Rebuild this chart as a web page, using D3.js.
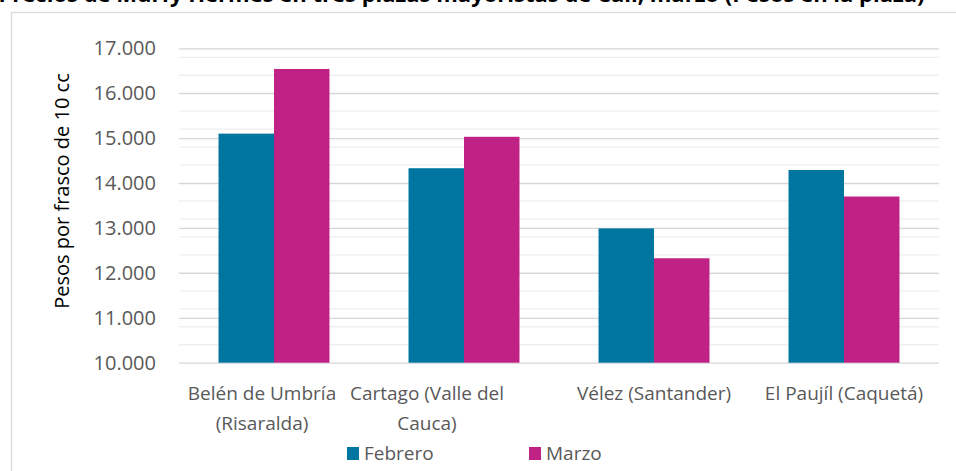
<!DOCTYPE html>
<html>
<head>
<meta charset="utf-8">
<script src="https://cdn.jsdelivr.net/npm/d3@7"></script>
<style>
  body { margin: 0; background: #fff; }
  svg { display: block; font-family: "Open Sans", sans-serif; }
</style>
</head>
<body>
<div id="chart"></div>
<script>
// data
var categories = ["Belén de Umbría (Risaralda)", "Cartago (Valle del Cauca)", "Vélez (Santander)", "El Paujíl (Caquetá)"];
var tickLabels = [["Belén de Umbría", "(Risaralda)"], ["Cartago (Valle del", "Cauca)"], ["Vélez (Santander)"], ["El Paujíl (Caquetá)"]];
var seriesNames = ["Febrero", "Marzo"];
var febrero = [15100, 14330, 12990, 14290];
var marzo = [16540, 15030, 12325, 13700];
var yTicks = [10000, 11000, 12000, 13000, 14000, 15000, 16000, 17000];
var yTitle = "Pesos por frasco de 10 cc";
var title = "Precios de Murfy Hermes en tres plazas mayoristas de Cali, marzo (Pesos en la plaza)";

var width = 956,
  height = 471;
var margin = { left: 179, right: 17, top: 48.3, bottom: 108.3 };
var colors = ["#0075a0", "#c02184"];
// wrapped labels in the original sit a bit left of their group
var labelNudge = [-12, -37, 0, 0];

var svg = d3.select("#chart")
  .append("svg")
  .attr("width", width)
  .attr("height", height);

//outer chart frame, runs off the page on the right and bottom
svg.append("rect")
  .attr("x", 11.5)
  .attr("y", 12.5)
  .attr("width", width + 20)
  .attr("height", height + 20)
  .attr("fill", "none")
  .attr("stroke", "#d9d9d9")
  .attr("stroke-width", 1.3);

//title, cut off at the top like in the source
var t = svg.append("text")
  .attr("y", 2)
  .style("font-size", "22px")
  .style("font-weight", "bold")
  .attr("fill", "#000")
  .text(title);
var yIdx = title.indexOf("Murfy") + 4;
t.attr("x", 175 - t.node().getSubStringLength(0, yIdx) - 5);

var y = d3.scaleLinear()
  .domain([10000, 17000])
  .range([height - margin.bottom, margin.top]);

var x0 = d3.scaleBand()
  .domain(categories)
  .range([margin.left, width - margin.right])
  .paddingInner(0.416)
  .paddingOuter(0.208);

var x1 = d3.scaleBand()
  .domain(seriesNames)
  .range([0, x0.bandwidth()]);

//minor grid
svg.append("g")
  .selectAll("line")
  .data(d3.range(10400, 17000, 400))
  .enter().append("line")
  .attr("x1", margin.left)
  .attr("x2", width - margin.right)
  .attr("y1", function(d) { return y(d); })
  .attr("y2", function(d) { return y(d); })
  .attr("stroke", "#efefef")
  .attr("stroke-width", 1.3);

//major grid + labels
var yAxis = d3.axisLeft(y)
  .tickValues(yTicks)
  .tickSize(-(width - margin.left - margin.right))
  .tickPadding(23)
  .tickFormat(function(d) { return d3.format(",")(d).replace(",", "."); });

svg.append("g")
  .attr("transform", "translate(" + margin.left + ",0)")
  .call(yAxis)
  .call(function(g) {
    g.select(".domain").remove();
    g.selectAll(".tick line").attr("stroke", "#d6d6d6").attr("stroke-width", 1.3);
    g.selectAll(".tick text")
      .attr("fill", "#595959")
      .style("font-size", "20px")
      .style("font-family", "'Open Sans', sans-serif");
  });

//bars
var groups = svg.append("g")
  .selectAll("g")
  .data(categories)
  .enter().append("g")
  .attr("transform", function(d) { return "translate(" + x0(d) + ",0)"; });

groups.selectAll("rect")
  .data(function(d, i) {
    return [
      { key: "Febrero", value: febrero[i] },
      { key: "Marzo", value: marzo[i] }
    ];
  })
  .enter().append("rect")
  .attr("x", function(d) { return x1(d.key); })
  .attr("y", function(d) { return y(d.value); })
  .attr("width", x1.bandwidth())
  .attr("height", function(d) { return y(10000) - y(d.value); })
  .attr("fill", function(d, i) { return colors[i]; });

//category labels
var xl = svg.append("g")
  .selectAll("text")
  .data(categories)
  .enter().append("text")
  .attr("x", function(d, i) { return x0(d) + x0.bandwidth() / 2 + labelNudge[i]; })
  .attr("y", 400)
  .attr("text-anchor", "middle")
  .attr("fill", "#595959")
  .style("font-size", "19px");

xl.selectAll("tspan")
  .data(function(d, i) { return tickLabels[i]; })
  .enter().append("tspan")
  .attr("x", function() { return d3.select(this.parentNode).attr("x"); })
  .attr("dy", function(d, i) { return i ? 30 : 0; })
  .text(function(d) { return d; });

//y title
svg.append("text")
  .attr("transform", "translate(69,191) rotate(-90)")
  .attr("text-anchor", "middle")
  .attr("fill", "#000")
  .style("font-size", "20px")
  .text(yTitle);

//legend
var legend = svg.append("g")
  .selectAll("g")
  .data(seriesNames)
  .enter().append("g")
  .attr("transform", function(d, i) { return "translate(" + (347 + i * 182) + ",447)"; });

legend.append("rect")
  .attr("width", 12)
  .attr("height", 13)
  .attr("fill", function(d, i) { return colors[i]; });

legend.append("text")
  .attr("x", 17)
  .attr("y", 12.5)
  .attr("fill", "#595959")
  .style("font-size", "19px")
  .text(function(d) { return d; });
</script>
</body>
</html>
